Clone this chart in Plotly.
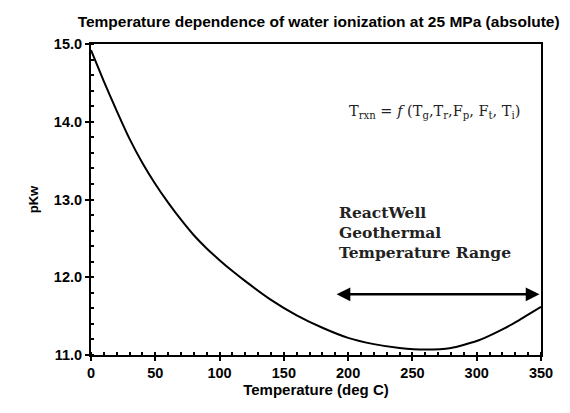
import plotly.graph_objects as go

# pKw of water at 25 MPa
temp_c = [0, 10, 20, 30, 40, 50, 60, 70, 80, 90, 100, 110, 120, 140, 160, 180,
          200, 220, 240, 260, 280, 300, 310, 320, 330, 340, 350]
pkw = [14.92, 14.52, 14.14, 13.78, 13.47, 13.20, 12.96, 12.74, 12.54, 12.37,
       12.22, 12.08, 11.95, 11.71, 11.51, 11.35, 11.22, 11.14, 11.09, 11.07,
       11.09, 11.18, 11.25, 11.33, 11.42, 11.52, 11.62]

range_start, range_end, range_level = 191, 350, 11.78

x_ticks = [0, 50, 100, 150, 200, 250, 300, 350]
y_ticks = [11, 12, 13, 14, 15]
y_tick_labels = ["11.0", "12.0", "13.0", "14.0", "15.0"]

sans = "Liberation Sans, Arial, sans-serif"
serif = "DejaVu Serif, Liberation Serif, serif"

fig = go.Figure()

fig.add_trace(go.Scatter(
    x=temp_c, y=pkw, mode="lines",
    line=dict(color="black", width=2, shape="spline", smoothing=0.6),
    showlegend=False,
))

# double-headed arrow for the geothermal range
fig.add_annotation(
    x=range_start, y=range_level, ax=range_end, ay=range_level,
    xref="x", yref="y", axref="x", ayref="y",
    text="", showarrow=True, arrowhead=2, arrowsize=1.1, arrowwidth=2.5,
    arrowcolor="black", startarrowhead=2, startarrowsize=1.1, arrowside="end+start",
)

fig.add_annotation(
    x=range_start, y=12.57, xref="x", yref="y", xanchor="left", yanchor="middle",
    text="<b>ReactWell<br>Geothermal<br>Temperature Range</b>",
    showarrow=False, align="left",
    font=dict(family=serif, size=15.5, color="#222"),
)

fig.add_annotation(
    x=267, y=14.13, xref="x", yref="y", xanchor="center", yanchor="middle",
    text="T<sub>rxn</sub> = <i>f</i> (T<sub>g</sub>,T<sub>r</sub>,F<sub>p</sub>, F<sub>t</sub>, T<sub>i</sub>)",
    showarrow=False, font=dict(family=serif, size=14.5, color="#222"),
)

fig.update_layout(
    width=570, height=413,
    margin=dict(l=83, r=37, t=36, b=66),
    paper_bgcolor="white", plot_bgcolor="white",
    title=dict(
        text="<b>Temperature dependence of water ionization at 25 MPa (absolute)</b>",
        x=0.545, xanchor="center", y=0.968, yanchor="middle",
        font=dict(family=sans, size=15.5, color="black"),
    ),
    font=dict(family=sans, color="black"),
)

fig.update_xaxes(
    range=[0, 350], tickvals=x_ticks,
    showline=True, linecolor="black", linewidth=2, mirror=True,
    showgrid=False, zeroline=False,
    ticks="outside", ticklen=4, tickwidth=2, tickcolor="black",
    minor=dict(dtick=10, ticks="inside", ticklen=3, tickwidth=1.5, tickcolor="black"),
    tickfont=dict(family=sans, size=14.5, color="black", weight="bold"),
    title=dict(text="<b>Temperature (deg C)</b>", standoff=3,
               font=dict(family=sans, size=15, color="black")),
)

fig.update_yaxes(
    range=[11, 15], tickvals=y_ticks, ticktext=y_tick_labels,
    showline=True, linecolor="black", linewidth=2, mirror=True,
    showgrid=False, zeroline=False,
    ticks="outside", ticklen=4, tickwidth=2, tickcolor="black",
    minor=dict(dtick=0.2, ticks="inside", ticklen=3, tickwidth=1.5, tickcolor="black"),
    tickfont=dict(family=sans, size=14.5, color="black", weight="bold"),
    title=dict(text="<b>pKw</b>", standoff=12,
               font=dict(family=sans, size=13, color="black")),
)

fig.write_html("out.html")
